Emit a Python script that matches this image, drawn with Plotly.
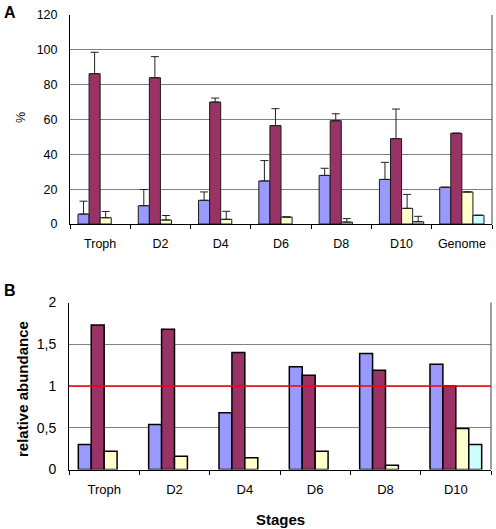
import plotly.graph_objects as go

# ---------------- data ----------------
stages_a = ["Troph", "D2", "D4", "D6", "D8", "D10", "Genome"]
a_blue = [5.7, 10.5, 13.6, 24.7, 27.9, 25.6, 21.1]
a_blue_err = [7.4, 9.3, 4.8, 11.7, 4.1, 9.8, 0]
a_purple = [86.3, 84.0, 70.0, 56.5, 59.3, 49.0, 52.1]
a_purple_err = [12.3, 12.1, 2.3, 9.7, 4.0, 17.0, 0]
a_yellow = [3.6, 2.3, 2.7, 4.0, 1.1, 9.0, 18.4]
a_yellow_err = [3.6, 2.6, 4.6, 0, 2.0, 8.0, 0]
a_cyan = [None, None, None, None, None, 1.3, 5.0]
a_cyan_err = [0, 0, 0, 0, 0, 3.1, 0]

stages_b = ["Troph", "D2", "D4", "D6", "D8", "D10"]
b_blue = [0.30, 0.54, 0.68, 1.23, 1.39, 1.26]
b_purple = [1.73, 1.68, 1.40, 1.13, 1.19, 1.00]
b_yellow = [0.22, 0.16, 0.14, 0.22, 0.05, 0.49]
b_cyan = [None, None, None, None, None, 0.30]

a_yticks = [0, 20, 40, 60, 80, 100, 120]
b_yticks = [0, 0.5, 1, 1.5, 2]
b_yticktext = ["0", "0,5", "1", "1,5", "2"]

colors = ["#9999FF", "#993366", "#FFFFCC", "#CCFFFF"]
FONT = "Liberation Sans, Arial, sans-serif"

fig = go.Figure()

a_vals = [a_blue, a_purple, a_yellow, a_cyan]
a_errs = [a_blue_err, a_purple_err, a_yellow_err, a_cyan_err]
for vals, errs, col in zip(a_vals, a_errs, colors):
    fig.add_trace(go.Bar(
        x=stages_a, y=vals, xaxis="x", yaxis="y",
        marker=dict(color=col, line=dict(color="#1a1a1a", width=1)),
        error_y=dict(type="data", symmetric=False, array=errs,
                     arrayminus=[0] * len(errs), color="#202020",
                     thickness=1, width=4),
        showlegend=False, hoverinfo="skip"))

b_vals = [b_blue, b_purple, b_yellow, b_cyan]
for vals, col in zip(b_vals, colors):
    fig.add_trace(go.Bar(
        x=stages_b, y=vals, xaxis="x2", yaxis="y2",
        marker=dict(color=col, line=dict(color="#000000", width=1.5)),
        showlegend=False, hoverinfo="skip"))

W, H = 496, 529
ax_a = (70 / W, 492 / W)
ay_a = (1 - 224 / H, 1 - 15 / H)
ax_b = (69 / W, 491 / W)
ay_b = (1 - 469.5 / H, 1 - 302.5 / H)

fig.update_layout(
    width=W, height=H, autosize=False,
    margin=dict(l=0, r=0, t=0, b=0, pad=0, autoexpand=False),
    paper_bgcolor="white", plot_bgcolor="white",
    barmode="group",
    bargap=0.265,
    font=dict(family=FONT, color="black"),
    xaxis=dict(domain=ax_a, anchor="y", showline=True, linecolor="black",
               linewidth=1, ticks="outside", tickson="boundaries", ticklen=4,
               tickcolor="black", tickfont=dict(size=12.5), showgrid=False,
               ticklabelstandoff=8, fixedrange=True, automargin=False),
    yaxis=dict(domain=ay_a, anchor="x", range=[0, 120], tickvals=a_yticks,
               showline=True, linecolor="black", linewidth=1,
               showgrid=True, gridcolor="#808080", gridwidth=1,
               tickfont=dict(size=12.5), ticks="", ticklabelstandoff=9,
               zeroline=False, fixedrange=True, automargin=False),
    xaxis2=dict(domain=ax_b, anchor="y2", showline=True, linecolor="black",
                linewidth=1, ticks="outside", tickson="boundaries", ticklen=4,
                tickcolor="black", tickfont=dict(size=13), showgrid=False,
                ticklabelstandoff=8, fixedrange=True, automargin=False),
    yaxis2=dict(domain=ay_b, anchor="x2", range=[0, 2], tickvals=b_yticks,
                ticktext=b_yticktext, showline=True, linecolor="black",
                linewidth=1, showgrid=True, gridcolor="#808080", gridwidth=1,
                tickfont=dict(size=14), ticks="", ticklabelstandoff=9,
                zeroline=False, fixedrange=True, automargin=False),
)

shapes = [
    dict(type="line", xref="x domain", yref="y domain", x0=1, x1=1, y0=0, y1=1,
         line=dict(color="#404040", width=1)),
    dict(type="line", xref="x2 domain", yref="y2 domain", x0=1, x1=1, y0=0, y1=1,
         line=dict(color="#404040", width=1)),
    dict(type="line", xref="x2 domain", yref="y2", x0=0, x1=1, y0=1, y1=1,
         line=dict(color="#FF0000", width=1.6), layer="above"),
]
fig.update_layout(shapes=shapes)

annotations = [
    dict(text="<b>A</b>", x=2 / W, y=1 - 2 / H, xref="paper", yref="paper",
         xanchor="left", yanchor="top", showarrow=False, font=dict(size=16)),
    dict(text="<b>B</b>", x=2 / W, y=1 - 280 / H, xref="paper", yref="paper",
         xanchor="left", yanchor="top", showarrow=False, font=dict(size=16)),
    dict(text="%", x=21 / W, y=1 - 118 / H, xref="paper", yref="paper",
         xanchor="center", yanchor="middle", showarrow=False, textangle=-90,
         font=dict(size=12.5)),
    dict(text="<b>relative abundance</b>", x=22 / W, y=1 - 389 / H,
         xref="paper", yref="paper", xanchor="center", yanchor="middle",
         showarrow=False, textangle=-90, font=dict(size=15)),
    dict(text="<b>Stages</b>", x=280 / W, y=1 - 519 / H, xref="paper",
         yref="paper", xanchor="center", yanchor="middle", showarrow=False,
         font=dict(size=15)),
]
fig.update_layout(annotations=annotations)

fig.write_html(
    "out.html",
    config={"displayModeBar": False, "responsive": False},
    post_script="document.body.style.margin='0px';document.body.style.overflow='hidden';",
)
